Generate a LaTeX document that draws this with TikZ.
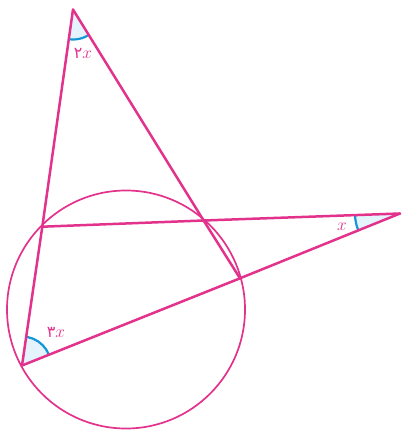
\documentclass[tikz,border=0pt]{standalone}
\usepackage{fontspec}
\newfontfamily\arabicfont[Script=Arabic]{DejaVu Sans}
\definecolor{pinkline}{RGB}{226,50,140}
\definecolor{angblue}{RGB}{20,150,215}
\definecolor{angfill}{RGB}{228,243,252}
\tikzset{
  mainline/.style={draw=pinkline,line width=2.5pt,line cap=round,line join=round},
  circline/.style={draw=pinkline,line width=1.7pt},
  angmark/.style={draw=angblue,line width=2.2pt},
  angarea/.style={fill=angfill},
  lbl/.style={text=pinkline,inner sep=0pt,font=\fontsize{16}{18}\selectfont}
}
\begin{document}
\begin{tikzpicture}[x=1pt,y=-1pt]
\useasboundingbox (0,0) rectangle (401,430);
\coordinate (O) at (126,309.5);
\coordinate (A) at (73,9.5);
\coordinate (B) at (42.3,226.7);
\coordinate (C) at (203.6,220.5);
\coordinate (D) at (240,278.3);
\coordinate (E) at (22,365.5);
\coordinate (F) at (400,213.5);
% angle fills
\begin{scope}
  \clip (E) -- (A) -- (F) -- cycle;
  \fill[angarea] (E) circle[radius=29];
\end{scope}
\begin{scope}
  \clip (F) -- (B) -- (E) -- cycle;
  \fill[angarea] (F) circle[radius=45];
\end{scope}
\begin{scope}
  \clip (A) -- (E) -- (D) -- cycle;
  \fill[angarea] (A) circle[radius=30];
\end{scope}
\begin{scope}
  \clip (E) -- (A) -- (F) -- cycle;
  \draw[angmark] (E) circle[radius=29];
\end{scope}
\begin{scope}
  \clip (F) -- (B) -- (E) -- cycle;
  \draw[angmark] (F) circle[radius=45];
\end{scope}
\begin{scope}
  \clip (A) -- (E) -- (D) -- cycle;
  \draw[angmark] (A) circle[radius=30];
\end{scope}
% circle
\draw[circline] (O) circle[radius=119];
% lines
\draw[mainline] (A) -- (B) -- (E);
\draw[mainline] (A) -- (C) -- (D);
\draw[mainline] (B) -- (C) -- (F);
\draw[mainline] (E) -- (D) -- (F);
% labels
\node[lbl] (la) at (83,53) {{\arabicfont ۲}$x$};
\node[lbl] (lf) at (342,227) {$x$};
\node[lbl] (le) at (56,332) {{\arabicfont ۳}$x$};
\end{tikzpicture}
\end{document}
